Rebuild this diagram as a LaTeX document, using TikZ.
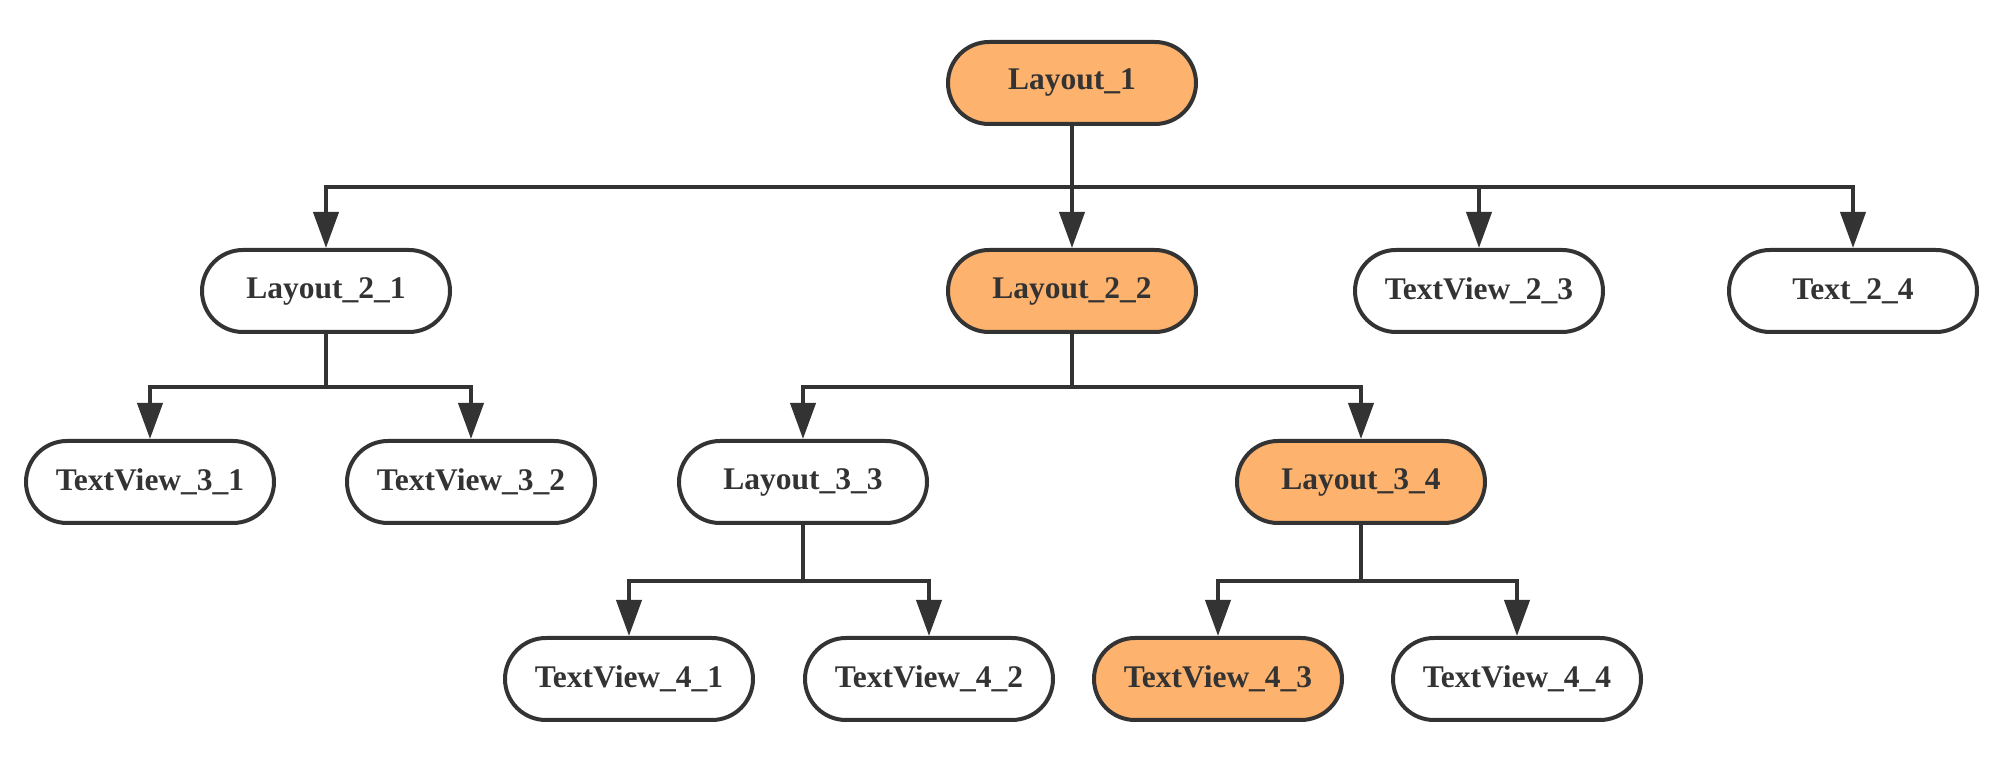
\documentclass[tikz,border=0pt]{standalone}
\usepackage{fontspec}
\setmainfont{LiberationSerif}[Extension=.ttf, UprightFont=*-Regular, BoldFont=*-Bold]
\usetikzlibrary{arrows.meta}
\definecolor{ink}{HTML}{333333}
\definecolor{hot}{HTML}{FDB26E}
\begin{document}
\begin{tikzpicture}[x=0.5pt,y=-0.5pt,
  box/.style={draw=ink, line width=2pt, fill=white, rounded corners=20.5pt,
    minimum width=124pt, minimum height=41pt, inner sep=0pt,
    text=ink, font=\rmfamily\bfseries\fontsize{15.75}{18}\selectfont},
  hotbox/.style={box, fill=hot},
  conn/.style={draw=ink, line width=2pt,
    -{Triangle[length=18pt,width=12.5pt]}}]
\useasboundingbox (0,0) rectangle (2014,774);

% level 1
\node[hotbox] (L1)  at (1072,83)  {Layout\_1};
% level 2
\node[box]    (L21) at (326,291)  {Layout\_2\_1};
\node[hotbox] (L22) at (1072,291) {Layout\_2\_2};
\node[box]    (T23) at (1479,291) {TextView\_2\_3};
\node[box]    (T24) at (1853,291) {Text\_2\_4};
% level 3
\node[box]    (T31) at (150,482)  {TextView\_3\_1};
\node[box]    (T32) at (471,482)  {TextView\_3\_2};
\node[box]    (L33) at (803,482)  {Layout\_3\_3};
\node[hotbox] (L34) at (1361,482) {Layout\_3\_4};
% level 4
\node[box]    (T41) at (629,679)  {TextView\_4\_1};
\node[box]    (T42) at (929,679)  {TextView\_4\_2};
\node[hotbox] (T43) at (1218,679) {TextView\_4\_3};
\node[box]    (T44) at (1517,679) {TextView\_4\_4};

% elbow connectors: down to a bus, across, down into the child
\foreach \c in {L21,L22,T23,T24}
  \draw[conn] (L1.south) -- (L1.south |- 0,187) -| (\c.north);
\foreach \c in {T31,T32}
  \draw[conn] (L21.south) -- (L21.south |- 0,387) -| (\c.north);
\foreach \c in {L33,L34}
  \draw[conn] (L22.south) -- (L22.south |- 0,387) -| (\c.north);
\foreach \c in {T41,T42}
  \draw[conn] (L33.south) -- (L33.south |- 0,581) -| (\c.north);
\foreach \c in {T43,T44}
  \draw[conn] (L34.south) -- (L34.south |- 0,581) -| (\c.north);
\end{tikzpicture}
\end{document}
